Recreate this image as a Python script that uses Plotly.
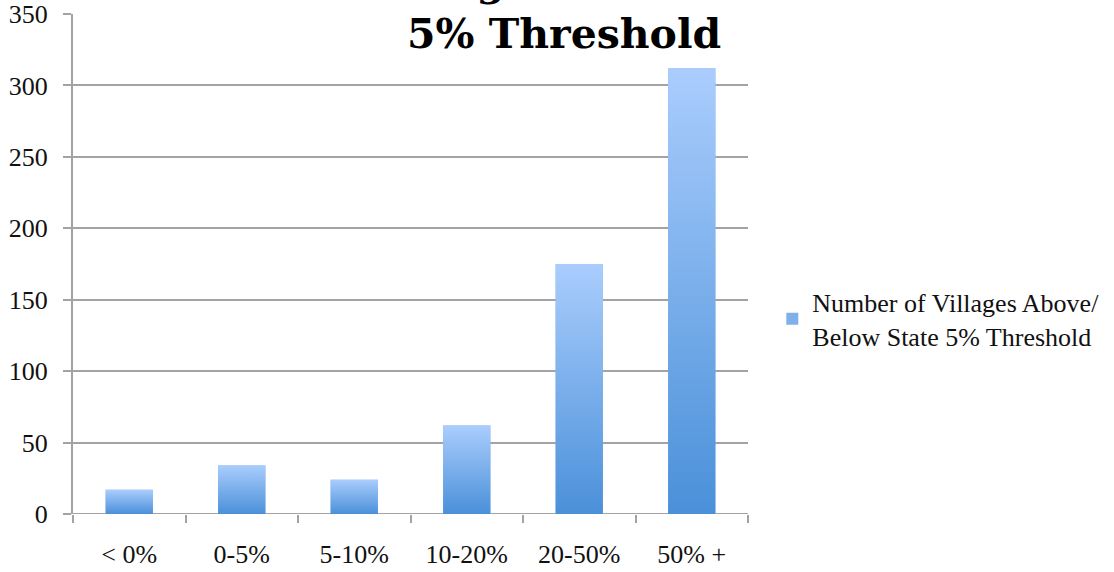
import plotly.graph_objects as go

# Village counts by percentage band
categories = ["< 0%", "0-5%", "5-10%", "10-20%", "20-50%", "50% +"]
villages = [17, 34, 24, 62, 175, 312]
y_ticks = [0, 50, 100, 150, 200, 250, 300, 350]

series_name = "Number of Villages Above/<br>Below State 5% Threshold"
title_text = "Villages Above/<br>5% Threshold"

BAR_W = 0.42
TOP_C = "#aacdfd"
BOT_C = "#4a90d9"
FONT = "Liberation Serif"
TITLE_FONT = "DejaVu Serif"
GRID = "#a3a3a3"

xs = list(range(len(categories)))
fig = go.Figure()

# base bars (legend + hover), covered by the gradient fills below
fig.add_trace(go.Bar(
    x=xs, y=villages, width=BAR_W, name=series_name,
    marker=dict(color="#7fb0ea", line=dict(width=0)),
    showlegend=True,
))

# vertical gradient fill for each bar
for xi, v in zip(xs, villages):
    fig.add_trace(go.Scatter(
        x=[xi - BAR_W / 2, xi + BAR_W / 2, xi + BAR_W / 2, xi - BAR_W / 2, xi - BAR_W / 2],
        y=[0, 0, v, v, 0],
        mode="lines", line=dict(width=0),
        fill="toself",
        fillgradient=dict(type="vertical", colorscale=[[0, BOT_C], [1, TOP_C]]),
        hoverinfo="skip", showlegend=False,
    ))

fig.update_layout(
    width=1114, height=572,
    margin=dict(l=73, r=366, t=14, b=58, autoexpand=False),
    paper_bgcolor="white", plot_bgcolor="white",
    font=dict(family=FONT, size=26, color="#111111"),
    showlegend=True,
    legend=dict(
        x=1.036, y=0.39, xanchor="left", yanchor="middle",
        font=dict(family=FONT, size=26, color="#111111"),
        itemwidth=30, bgcolor="rgba(0,0,0,0)",
    ),
    bargap=0.58,
)

fig.update_xaxes(
    range=[-0.5, len(categories) - 0.5],
    tickmode="array", tickvals=xs, ticktext=categories,
    ticks="", showgrid=False, zeroline=False,
    showline=False, automargin=False,
    ticklabelstandoff=22,
    tickfont=dict(family=FONT, size=26),
    minor=dict(tickmode="linear", tick0=-0.5, dtick=1, ticks="outside",
               ticklen=8, tickwidth=2, tickcolor=GRID, showgrid=False),
)

fig.update_yaxes(
    range=[0, 350],
    tickmode="array", tickvals=y_ticks,
    ticks="outside", ticklen=8, tickwidth=2, tickcolor=GRID,
    showgrid=True, gridcolor=GRID, gridwidth=2,
    zeroline=False, automargin=False,
    showline=True, linecolor=GRID, linewidth=2,
    ticklabelstandoff=10, ticklabeloverflow="allow",
    tickfont=dict(family=FONT, size=26),
)

# x axis baseline at zero
fig.add_hline(y=0, line=dict(color=GRID, width=2), layer="below")

# bold title; its upper line runs past the top edge of the page
fig.add_annotation(
    text="<b>" + title_text + "</b>",
    xref="paper", yref="paper", x=0.963, y=1.0,
    xanchor="right", yanchor="bottom", yshift=-46,
    showarrow=False, align="right",
    font=dict(family=TITLE_FONT, size=41, color="#000000"),
)

fig.write_html("out.html")
